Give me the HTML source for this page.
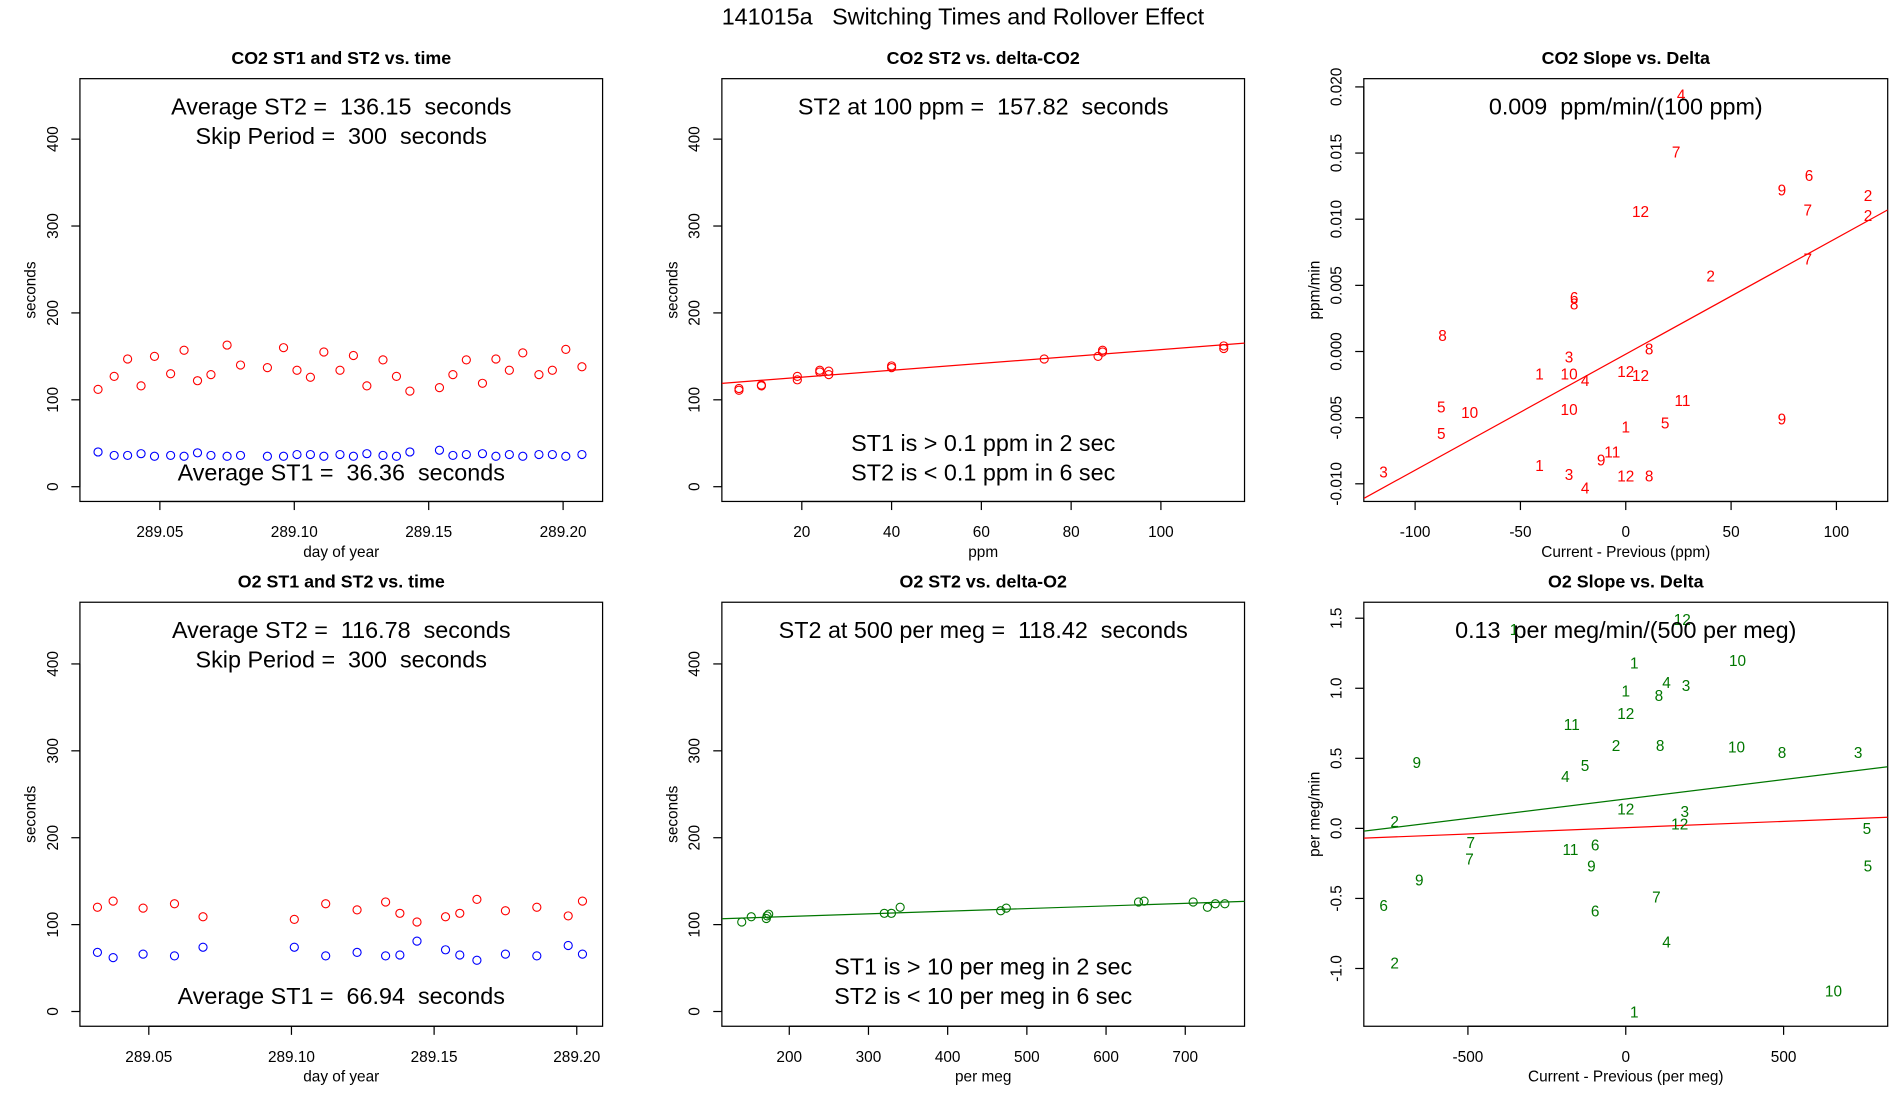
<!DOCTYPE html>
<html><head><meta charset="utf-8"><style>
html,body{margin:0;padding:0;background:#fff;}
svg{display:block;font-family:"Liberation Sans",sans-serif;}
svg text{white-space:pre;}
</style></head><body>
<svg id="chart" width="1900" height="1100" viewBox="0 0 1545 895" preserveAspectRatio="none" xmlns="http://www.w3.org/2000/svg" xml:space="preserve">
<text x="783" y="20" font-size="19" text-anchor="middle">141015a   Switching Times and Rollover Effect</text>
</svg>
<script>
// ---- Panel 1: CO2 ST vs time ----
const co2Days = [289.027,289.033,289.038,289.043,289.048,289.054,289.059,289.064,289.069,289.075,289.080,289.090,289.096,289.101,289.106,289.111,289.117,289.122,289.127,289.133,289.138,289.143,289.154,289.159,289.164,289.170,289.175,289.180,289.185,289.191,289.196,289.201,289.207];
const co2ST2 = [112,127,147,116,150,130,157,122,129,163,140,137,160,134,126,155,134,151,116,146,127,110,114,129,146,119,147,134,154,129,134,158,138];
const co2ST1 = [40,36,36,38,35,36,35,39,36,35,36,35,35,37,37,35,37,35,38,36,35,40,42,36,37,38,35,37,35,37,37,35,37];
const timeTicks = [289.05,289.10,289.15,289.20];
const secTicks = [0,100,200,300,400];
// ---- Panel 2: CO2 ST2 vs delta ----
const co2Delta = [6,6,11,11,19,19,24,24,26,26,40,40,74,86,87,87,114,114];
const co2DeltaST2 = [111,113,116,117,123,127,132,134,129,133,137,139,147,150,155,157,159,162];
const co2Fit = [118.1,0.397];
const ppmTicks = [20,40,60,80,100];
// ---- Panel 3: CO2 slope vs delta ----
const co2SlopeX = [26.3,23.9,87,74.1,115,7,86.4,115,86.4,40.3,-24.5,-24.5,-87,-26.9,11.1,-40.9,-26.9,-19.3,0,7,26.9,-87.6,-74.1,-26.9,74.1,18.7,0,-87.6,-6.4,-11.7,-40.9,-26.9,-19.3,0,11.1,-115];
const co2SlopeY = [0.0194,0.0151,0.0133,0.0122,0.0118,0.0106,0.0107,0.0103,0.0070,0.0057,0.0041,0.0036,0.0012,-0.0004,0.0002,-0.0017,-0.0017,-0.0022,-0.0015,-0.0018,-0.0037,-0.0042,-0.0046,-0.0044,-0.0051,-0.0054,-0.0057,-0.0062,-0.0076,-0.0082,-0.0086,-0.0093,-0.0103,-0.0094,-0.0094,-0.0091];
const co2SlopeLab = ["4","7","6","9","2","12","7","2","7","2","6","8","8","3","8","1","10","4","12","12","11","5","10","10","9","5","1","5","11","9","1","3","4","12","8","3"];
const co2SlopeFit = [-0.0002,0.0000877];
const deltaPpmTicks = [-100,-50,0,50,100];
const slopePpmTicks = [-0.010,-0.005,0.000,0.005,0.010,0.015,0.020];
// ---- Panel 4: O2 ST vs time ----
const o2Days = [289.032,289.0375,289.048,289.059,289.069,289.101,289.112,289.123,289.133,289.138,289.144,289.154,289.159,289.165,289.175,289.186,289.197,289.202];
const o2ST2 = [120,127,119,124,109,106,124,117,126,113,103,109,113,129,116,120,110,127];
const o2ST1 = [68,62,66,64,74,74,64,68,64,65,81,71,65,59,66,64,76,66];
// ---- Panel 5: O2 ST2 vs delta ----
const o2Delta = [140,152,171,172,174,320,329,340,467,474,641,648,710,728,738,750];
const o2DeltaST2 = [103,109,107,110,112,113,113,120,116,119,126,127,126,120,124,124];
const o2Fit = [103.3,0.0303];
const permegTicks = [200,300,400,500,600,700];
// ---- Panel 6: O2 slope vs delta ----
const o2SlopeX = [179,-354,27,354,0,129,191,105,0,-171,-31,109,351,495,736,-662,-129,-191,0,187,-732,171,764,-491,-97,-175,-495,-109,767,-654,97,-767,-97,129,-732,658,27];
const o2SlopeY = [1.49,1.42,1.18,1.20,0.98,1.04,1.02,0.95,0.82,0.74,0.59,0.59,0.58,0.54,0.54,0.47,0.45,0.37,0.14,0.12,0.05,0.03,0,-0.10,-0.12,-0.15,-0.22,-0.27,-0.27,-0.37,-0.49,-0.55,-0.59,-0.81,-0.96,-1.16,-1.31];
const o2SlopeLab = ["12","1","1","10","1","4","3","8","12","11","2","8","10","8","3","9","5","4","12","3","2","12","5","7","6","11","7","9","5","9","7","6","6","4","2","10","1"];
const o2SlopeFitG = [0.21,0.000277];
const o2SlopeFitR = [0.005,0.00009];
const deltaPermegTicks = [-500,0,500];
const slopePermegTicks = [-1.0,-0.5,0.0,0.5,1.0,1.5];

const svg = document.getElementById('chart');
const NS = 'http://www.w3.org/2000/svg';
function mk(tag, attrs, parent){const e=document.createElementNS(NS,tag);for(const k in attrs)e.setAttribute(k,attrs[k]);(parent||svg).appendChild(e);return e;}
function lin(d0,d1,r0,r1){return v=>r0+(v-d0)*(r1-r0)/(d1-d0);}

function panel(o){
  const g = mk('g',{});
  
  
  const sx = lin(o.xd[0],o.xd[1],o.L,o.R), sy = lin(o.yd[0],o.yd[1],o.B,o.T);
  const t = mk('text',{x:(o.L+o.R)/2,y:o.T-12,'font-size':14.5,'font-weight':'bold','text-anchor':'middle'},g);
  
  
  t.textContent = o.title;
  const box = mk('rect',{x:o.L,y:o.T,width:o.R-o.L,height:o.B-o.T,fill:'none',stroke:'#000','stroke-width':1},g);
  
  
  const xa = mk('g',{},g);
  
  
  mk('line',{x1:sx(o.xt[0]),x2:sx(o.xt[o.xt.length-1]),y1:o.B,y2:o.B,stroke:'#000'},xa);
  o.xt.forEach((v,i)=>{const x=sx(v);
    mk('line',{x1:x,x2:x,y1:o.B,y2:o.B+7,stroke:'#000'},xa);
    const tl=mk('text',{x:x,y:o.B+29,'font-size':12.5,'text-anchor':'middle'},xa);
    
    
    tl.textContent=o.xl[i];});
  const xt = mk('text',{x:(o.L+o.R)/2,y:o.B+45,'font-size':12.5,'text-anchor':'middle'},g);
  
  
  xt.textContent=o.xlab;
  const ya = mk('g',{},g);
  
  
  mk('line',{x1:o.L,x2:o.L,y1:sy(o.yt[0]),y2:sy(o.yt[o.yt.length-1]),stroke:'#000'},ya);
  o.yt.forEach((v,i)=>{const y=sy(v);
    mk('line',{x1:o.L-7,x2:o.L,y1:y,y2:y,stroke:'#000'},ya);
    const tl=mk('text',{x:o.L-18,y:y,'font-size':12.5,'text-anchor':'middle',transform:`rotate(-90 ${o.L-18} ${y})`},ya);
    
    
    tl.textContent=o.yl[i];});
  const yt = mk('text',{x:o.L-36,y:(o.T+o.B)/2,'font-size':12.5,'text-anchor':'middle',transform:`rotate(-90 ${o.L-36} ${(o.T+o.B)/2})`},g);
  
  
  yt.textContent=o.ylab;
  const cid='c'+Math.round(o.L)+'_'+Math.round(o.T);
  const cp=mk('clipPath',{id:cid},g); mk('rect',{x:o.L,y:o.T,width:o.R-o.L,height:o.B-o.T},cp);
  const pg = mk('g',{'clip-path':`url(#${cid})`},g);
  (o.lines||[]).forEach(f=>{
    const ln=mk('line',{x1:o.L,x2:o.R,y1:sy(f.c[0]+f.c[1]*o.xd[0]),y2:sy(f.c[0]+f.c[1]*o.xd[1]),stroke:f.col,'stroke-width':1},pg);
    
    
  });
  (o.pts||[]).forEach(s=>{
    s.x.forEach((xv,i)=>{
      const c=mk('circle',{cx:sx(xv),cy:sy(s.y[i]),r:3.3,fill:'none',stroke:s.col,'stroke-width':0.9},pg);
      
      
    });
  });
  (o.labs||[]).forEach(s=>{
    s.x.forEach((xv,i)=>{
      const tx=mk('text',{x:sx(xv),y:sy(s.y[i])+4.5,'font-size':12.5,'text-anchor':'middle',fill:s.col},pg);
      
      
      tx.textContent=s.t[i];
    });
  });
  (o.notes||[]).forEach(n=>{
    const tx=mk('text',{x:(o.L+o.R)/2,y:n[1],'font-size':19,'text-anchor':'middle'},g);
    
    
    tx.textContent=n[0];
  });
}
const fmt2 = v=>v.toFixed(2);
panel({name:'co2-time-panel',title:'CO2 ST1 and ST2 vs. time',L:65,R:490,T:64,B:408,
  xd:[289.05-(130-65)/2186,289.05+(490-130)/2186],yd:[0-(408-396)/0.707,(396-64)/0.707],
  xt:timeTicks,xl:timeTicks.map(fmt2),yt:secTicks,yl:secTicks.map(String),xlab:'day of year',ylab:'seconds',
  pts:[{x:co2Days,y:co2ST2,col:'#ff0000'},{x:co2Days,y:co2ST1,col:'#0000ff'}],
  notes:[['Average ST2 =  136.15  seconds',93],['Skip Period =  300  seconds',117],['Average ST1 =  36.36  seconds',391]]});
panel({name:'co2-delta-panel',title:'CO2 ST2 vs. delta-CO2',L:587,R:1012,T:64,B:408,
  xd:[(587-579)/3.65,(1012-579)/3.65],yd:[0-(408-396)/0.707,(396-64)/0.707],
  xt:ppmTicks,xl:ppmTicks.map(String),yt:secTicks,yl:secTicks.map(String),xlab:'ppm',ylab:'seconds',
  lines:[{c:co2Fit,col:'#ff0000'}],pts:[{x:co2Delta,y:co2DeltaST2,col:'#ff0000'}],
  notes:[['ST2 at 100 ppm =  157.82  seconds',93],['ST1 is > 0.1 ppm in 2 sec',367],['ST2 is < 0.1 ppm in 6 sec',391]]});
panel({name:'co2-slope-panel',title:'CO2 Slope vs. Delta',L:1109,R:1535,T:64,B:408,
  xd:[(1109-1322)/1.713,(1535-1322)/1.713],yd:[-(408-286)*0.0000929,(286-64)*0.0000929],
  xt:deltaPpmTicks,xl:deltaPpmTicks.map(String),yt:slopePpmTicks,yl:slopePpmTicks.map(v=>v.toFixed(3)),xlab:'Current - Previous (ppm)',ylab:'ppm/min',
  lines:[{c:co2SlopeFit,col:'#ff0000'}],labs:[{x:co2SlopeX,y:co2SlopeY,t:co2SlopeLab,col:'#ff0000'}],
  notes:[['0.009  ppm/min/(100 ppm)',93]]});
panel({name:'o2-time-panel',title:'O2 ST1 and ST2 vs. time',L:65,R:490,T:490,B:835,
  xd:[289.05-(121-65)/2320,289.05+(490-121)/2320],yd:[0-(835-823)/0.707,(823-490)/0.707],
  xt:timeTicks,xl:timeTicks.map(fmt2),yt:secTicks,yl:secTicks.map(String),xlab:'day of year',ylab:'seconds',
  pts:[{x:o2Days,y:o2ST2,col:'#ff0000'},{x:o2Days,y:o2ST1,col:'#0000ff'}],
  notes:[['Average ST2 =  116.78  seconds',519],['Skip Period =  300  seconds',543],['Average ST1 =  66.94  seconds',817]]});
panel({name:'o2-delta-panel',title:'O2 ST2 vs. delta-O2',L:587,R:1012,T:490,B:835,
  xd:[(587-513)/0.644,(1012-513)/0.644],yd:[0-(835-823)/0.707,(823-490)/0.707],
  xt:permegTicks,xl:permegTicks.map(String),yt:secTicks,yl:secTicks.map(String),xlab:'per meg',ylab:'seconds',
  lines:[{c:o2Fit,col:'#007700'}],pts:[{x:o2Delta,y:o2DeltaST2,col:'#007700'}],
  notes:[['ST2 at 500 per meg =  118.42  seconds',519],['ST1 is > 10 per meg in 2 sec',793],['ST2 is < 10 per meg in 6 sec',817]]});
panel({name:'o2-slope-panel',title:'O2 Slope vs. Delta',L:1109,R:1535,T:490,B:835,
  xd:[(1109-1322)/0.2567,(1535-1322)/0.2567],yd:[-(835-674)/114,(674-490)/114],
  xt:deltaPermegTicks,xl:deltaPermegTicks.map(String),yt:slopePermegTicks,yl:slopePermegTicks.map(v=>v.toFixed(1)),xlab:'Current - Previous (per meg)',ylab:'per meg/min',
  lines:[{c:o2SlopeFitG,col:'#007700'},{c:o2SlopeFitR,col:'#ff0000'}],labs:[{x:o2SlopeX,y:o2SlopeY,t:o2SlopeLab,col:'#007700'}],
  notes:[['0.13  per meg/min/(500 per meg)',519]]});
</script>
</body></html>
